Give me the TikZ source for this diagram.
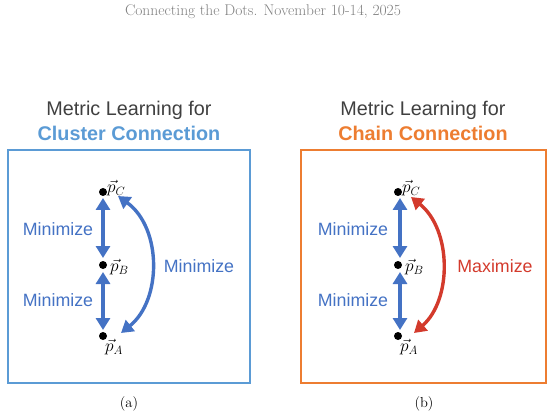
\documentclass[tikz,border=0pt]{standalone}
\usepackage{fontspec}
\setsansfont{Liberation Sans}
\usetikzlibrary{arrows.meta}
\definecolor{boxblue}{HTML}{5B9BD5}
\definecolor{boxorange}{HTML}{ED7D31}
\definecolor{arrblue}{HTML}{4472C4}
\definecolor{arrred}{HTML}{D33A2C}
\definecolor{titlegray}{HTML}{404040}
\begin{document}
\begin{tikzpicture}[x=1pt,y=-1pt,
  frame/.style={line width=2pt},
  title/.style={font=\sffamily\fontsize{19.8}{22}\selectfont, text=titlegray, inner sep=0pt},
  subtitle/.style={font=\sffamily\bfseries\fontsize{19.8}{22}\selectfont, inner sep=0pt},
  lbl/.style={font=\sffamily\fontsize{17.8}{20}\selectfont, inner sep=0pt},
  pt/.style={circle, fill=black, inner sep=0pt, minimum size=8pt},
  plabel/.style={font=\fontsize{18}{20}\selectfont, inner sep=0pt},
  dbl/.style={line width=3.4pt, {Triangle[length=12pt,width=14pt]}-{Triangle[length=12pt,width=14pt]}},
  captxt/.style={font=\fontsize{14.5}{16}\selectfont, inner sep=0pt}
]
\useasboundingbox (0,0) rectangle (552,417);
\node[font=\fontsize{15.5}{17}\selectfont, text=gray, inner sep=0pt] (hdr) at (263,12) {Connecting the Dots. November 10-14, 2025};

% Panel (a)
\node[title] (ta1) at (129,110) {Metric Learning for};
\node[subtitle, text=boxblue] (ta2) at (129,133) {Cluster Connection};
\draw[frame, boxblue] (8,150) rectangle (250,383);
\node[pt] (aC) at (103,192) {};
\node[pt] (aB) at (103,265) {};
\node[pt] (aA) at (103,336) {};
\node[plabel, anchor=south west] (laC) at (107,196) {$\vec{p}_C$};
\node[plabel, anchor=west] (laB) at (110,267) {$\vec{p}_B$};
\node[plabel, anchor=north west] (laA) at (105,339) {$\vec{p}_A$};
\coordinate (a1s) at (103,198);
\coordinate (a1e) at (103,258);
\coordinate (a2s) at (103,272);
\coordinate (a2e) at (103,330);
\draw[dbl, arrblue] (a1s) -- (a1e);
\draw[dbl, arrblue] (a2s) -- (a2e);
\coordinate (acS) at (118,196);
\coordinate (acE) at (121,333);
\draw[dbl, arrblue] (acS) .. controls (162,228) and (162,300) .. (acE);
\node[lbl, text=arrblue] (ma1) at (58,229) {Minimize};
\node[lbl, text=arrblue] (ma2) at (58,300) {Minimize};
\node[lbl, text=arrblue] (ma3) at (199,266) {Minimize};
\node[captxt] (capa) at (129,404) {(a)};

% Panel (b)
\node[title] (tb1) at (423,110) {Metric Learning for};
\node[subtitle, text=boxorange] (tb2) at (423,133) {Chain Connection};
\draw[frame, boxorange] (301,150) rectangle (546,383);
\node[pt] (bC) at (398,192) {};
\node[pt] (bB) at (398,265) {};
\node[pt] (bA) at (398,336) {};
\node[plabel, anchor=south west] (lbC) at (402,196) {$\vec{p}_C$};
\node[plabel, anchor=west] (lbB) at (405,267) {$\vec{p}_B$};
\node[plabel, anchor=north west] (lbA) at (400,339) {$\vec{p}_A$};
\coordinate (b1s) at (400,198);
\coordinate (b1e) at (400,258);
\coordinate (b2s) at (400,272);
\coordinate (b2e) at (400,330);
\draw[dbl, arrblue] (b1s) -- (b1e);
\draw[dbl, arrblue] (b2s) -- (b2e);
\coordinate (bcS) at (411,197);
\coordinate (bcE) at (414,333);
\draw[dbl, arrred] (bcS) .. controls (452,230) and (452,300) .. (bcE);
\node[lbl, text=arrblue] (mb1) at (353,229) {Minimize};
\node[lbl, text=arrblue] (mb2) at (353,300) {Minimize};
\node[lbl, text=arrred] (mb3) at (495,266) {Maximize};
\node[captxt] (capb) at (424,404) {(b)};
\end{tikzpicture}
\end{document}
